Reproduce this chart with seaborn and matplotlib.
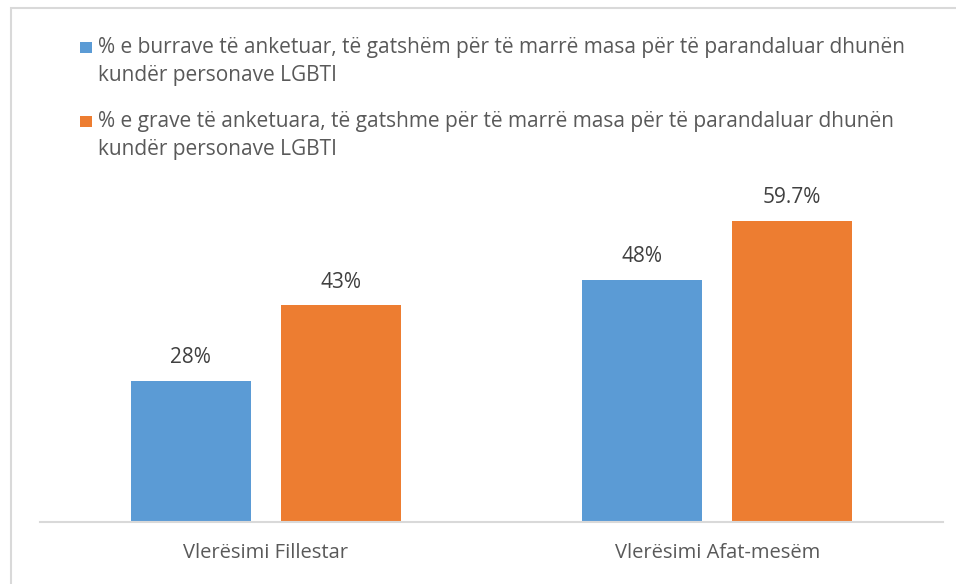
import matplotlib
matplotlib.use("Agg")
import matplotlib.pyplot as plt
import seaborn as sns
import pandas as pd
from matplotlib.patches import Rectangle

categories = ["Vlerësimi Fillestar", "Vlerësimi Afat-mesëm"]
series_names = [
    "% e burrave të anketuar, të gatshëm për të marrë masa për të parandaluar dhunën\nkundër personave LGBTI",
    "% e grave të anketuara, të gatshme për të marrë masa për të parandaluar dhunën\nkundër personave LGBTI",
]
men_values = [28, 48]
women_values = [43, 59.7]
value_labels_men = ["28%", "48%"]
value_labels_women = ["43%", "59.7%"]
colors = ["#5B9BD5", "#ED7D31"]

df = pd.DataFrame({
    "cat": categories * 2,
    "series": [series_names[0]] * 2 + [series_names[1]] * 2,
    "val": men_values + women_values,
})

sns.set_theme(style="white")
plt.rcParams["font.family"] = ["Open Sans", "DejaVu Sans"]

W, H = 956, 584
fig = plt.figure(figsize=(W / 100, H / 100), dpi=100)
ax_left, ax_right, ax_bottom, ax_top = 40, 943, 522, 190
ax = fig.add_axes([ax_left / W, 1 - ax_bottom / H, (ax_right - ax_left) / W, (ax_bottom - ax_top) / H])

sns.barplot(data=df, x="cat", y="val", hue="series", palette=colors, order=categories,
            hue_order=series_names, width=0.664, gap=0.2, ax=ax, legend=False,
            saturation=1, edgecolor="none")

ax.set_ylim(0, (ax_bottom - ax_top) / 5.045)
ax.set_xlim(-0.5, 1.5)
ax.set_xlabel("")
ax.set_ylabel("")
ax.set_yticks([])
for s in ["top", "right", "left"]:
    ax.spines[s].set_visible(False)
ax.spines["bottom"].set_color("#d9d9d9")
ax.spines["bottom"].set_linewidth(1.5)
ax.tick_params(axis="x", length=0, pad=15, labelsize=14.5, labelcolor="#595959")

labels_all = [value_labels_men, value_labels_women]
for container, labs in zip(ax.containers, labels_all):
    ax.bar_label(container, labels=labs, padding=9, fontsize=15, color="#404040")

# legend drawn manually, one text per line for exact placement
legend_baselines = [(53, 81), (127, 155)]
for name, col, bl in zip(series_names, colors, legend_baselines):
    fig.patches.append(Rectangle((80 / W, 1 - 53 / H + (bl[0] - 53) * -1 / H), 12 / W, 11 / H,
                                 transform=fig.transFigure, facecolor=col, edgecolor="none"))
    for line, b in zip(name.split("\n"), bl):
        fig.text(98 / W, 1 - b / H, line, ha="left", va="baseline", fontsize=15,
                 color="#595959")

# outer chart border
fig.patches.append(Rectangle((11 / W, -0.1), 1.2, 1 - 8 / H + 0.1, transform=fig.transFigure,
                             facecolor="none", edgecolor="#d9d9d9", linewidth=1.5))

fig.savefig("out.png", dpi=100, facecolor="white")
